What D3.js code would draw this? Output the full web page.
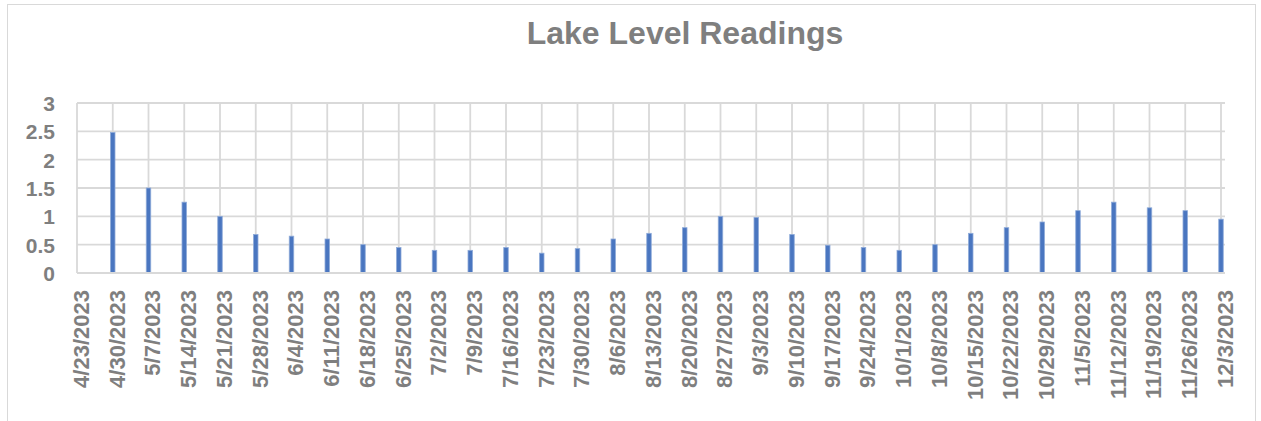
<!DOCTYPE html>
<html><head><meta charset="utf-8">
<script src="https://cdn.jsdelivr.net/npm/d3@7"></script>
<style>body{margin:0;background:#fff;}svg{display:block;}</style>
</head><body>
<svg id="c" width="1261" height="421"></svg>
<script>
const dates = ["4/23/2023","4/30/2023","5/7/2023","5/14/2023","5/21/2023","5/28/2023","6/4/2023","6/11/2023","6/18/2023","6/25/2023","7/2/2023","7/9/2023","7/16/2023","7/23/2023","7/30/2023","8/6/2023","8/13/2023","8/20/2023","8/27/2023","9/3/2023","9/10/2023","9/17/2023","9/24/2023","10/1/2023","10/8/2023","10/15/2023","10/22/2023","10/29/2023","11/5/2023","11/12/2023","11/19/2023","11/26/2023","12/3/2023"];
const levels = [null,2.48,1.5,1.25,1.0,0.68,0.65,0.6,0.5,0.45,0.4,0.4,0.45,0.35,0.43,0.6,0.7,0.8,1.0,0.98,0.68,0.49,0.45,0.4,0.5,0.7,0.8,0.9,1.1,1.25,1.15,1.1,0.95];
const yTicks = [0,0.5,1,1.5,2,2.5,3];
const title = "Lake Level Readings";

const svg = d3.select("#c");
const font = "'Liberation Sans', Arial, sans-serif";
const gray = "#7f7f7f";
const grid = "#d9d9d9";

// outer frame
svg.append("rect").attr("x",7.5).attr("y",4.5).attr("width",1248).attr("height",430)
  .attr("fill","none").attr("stroke","#d9d9d9").attr("stroke-width",1);

const x = d3.scalePoint().domain(dates).range([77,1221]);
const y = d3.scaleLinear().domain([0,3]).range([273,103]);
const plotRight = 1225;

// horizontal grid
svg.append("g").selectAll("line").data(yTicks).join("line")
  .attr("x1",77).attr("x2",plotRight)
  .attr("y1",d=>y(d)).attr("y2",d=>y(d))
  .attr("stroke",grid).attr("stroke-width",1.8);

// vertical grid
svg.append("g").selectAll("line").data(dates).join("line")
  .attr("x1",d=>x(d)).attr("x2",d=>x(d))
  .attr("y1",y(3)).attr("y2",y(0))
  .attr("stroke",grid).attr("stroke-width",1.8);

// y axis labels
const yAxis = d3.axisLeft(y).tickValues(yTicks).tickSize(0).tickPadding(0).tickFormat(d=>String(d));
const ga = svg.append("g").attr("transform","translate(55,0)").call(yAxis);
ga.select(".domain").remove();
ga.selectAll("text").attr("fill",gray).attr("font-family",font).attr("font-weight","bold").attr("font-size","21px").attr("dy","0.36em");

// bars
const bw = 4.5;
svg.append("g").selectAll("rect").data(dates.map((d,i)=>({d,v:levels[i]})).filter(o=>o.v!=null)).join("rect")
  .attr("x",o=>x(o.d)-bw/2).attr("width",bw)
  .attr("y",o=>y(o.v)).attr("height",o=>y(0)-y(o.v))
  .attr("fill","#4a76c0").attr("stroke","#8fabd9").attr("stroke-width",0.8);

// x axis
const xAxis = d3.axisBottom(x).tickSize(0).tickPadding(0);
const gx = svg.append("g").attr("transform",`translate(0,${y(0)})`).call(xAxis);
gx.select(".domain").attr("stroke",grid).attr("stroke-width",1.8).attr("d",`M77,0H${plotRight}`);
gx.selectAll("text")
  .attr("fill",gray).attr("font-family",font).attr("font-weight","bold").attr("font-size","22px")
  .attr("text-anchor","end").attr("transform","rotate(-90)")
  .attr("x",-17).attr("y",0).attr("dy","0.36em").attr("dx",0);
gx.selectAll(".tick").attr("transform",d=>`translate(${x(d)+4},0)`);

// title
svg.append("text").attr("x",685).attr("y",44).attr("text-anchor","middle")
  .attr("fill",gray).attr("font-family",font).attr("font-weight","bold").attr("font-size","32px")
  .text(title);
</script>
</body></html>
